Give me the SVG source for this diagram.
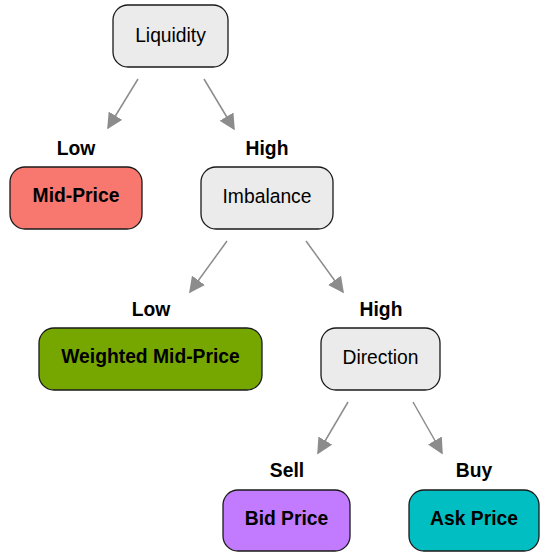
<svg xmlns="http://www.w3.org/2000/svg" width="541" height="552" viewBox="0 0 541 552">
<defs>
<style>
.box{stroke:#1a1a1a;stroke-width:1.3}
.q{fill:#ebebeb}
.t{font-family:"Liberation Sans",Arial,sans-serif;font-size:19.3px;fill:#000;text-anchor:middle}
.b{font-weight:bold}
.c{stroke:#8c8c8c;stroke-width:1.5;fill:none;marker-end:url(#ah)}
</style>
<marker id="ah" viewBox="0 0 10 10" refX="9" refY="5" markerWidth="16" markerHeight="16" orient="auto" markerUnits="userSpaceOnUse">
<path d="M0,0 L10,5 L0,10 z" fill="#8c8c8c"/>
</marker>
</defs>
<g id="connectors">
<line x1="138" y1="79" x2="108" y2="128" class="c"/>
<line x1="204" y1="79" x2="234" y2="129" class="c"/>
<line x1="227" y1="241" x2="190" y2="292" class="c"/>
<line x1="306" y1="241" x2="343" y2="292" class="c"/>
<line x1="348" y1="402" x2="318" y2="453" class="c"/>
<line x1="413" y1="402" x2="442" y2="453" class="c"/>
</g>
<g id="labels">
<text class="t b" x="76" y="155">Low</text>
<text class="t b" x="267" y="155">High</text>
<text class="t b" x="151" y="316">Low</text>
<text class="t b" x="381" y="316">High</text>
<text class="t b" x="287" y="477">Sell</text>
<text class="t b" x="474" y="477">Buy</text>
</g>
<g id="liquidity">
<rect class="box q" x="113" y="5" width="115" height="62" rx="15"/>
<text class="t" x="170.5" y="42">Liquidity</text>
</g>
<g id="mid-price">
<rect class="box" fill="#f8776f" x="10" y="167" width="132" height="62" rx="15"/>
<text class="t b" x="76" y="202">Mid-Price</text>
</g>
<g id="imbalance">
<rect class="box q" x="201" y="167" width="132" height="62" rx="15"/>
<text class="t" x="267" y="203">Imbalance</text>
</g>
<g id="weighted-mid-price">
<rect class="box" fill="#76a700" x="39" y="328" width="223" height="62" rx="15"/>
<text class="t b" x="150.5" y="363">Weighted Mid-Price</text>
</g>
<g id="direction">
<rect class="box q" x="321" y="328" width="119" height="62" rx="15"/>
<text class="t" x="380.5" y="364">Direction</text>
</g>
<g id="bid-price">
<rect class="box" fill="#c27bff" x="223" y="490" width="127" height="61" rx="15"/>
<text class="t b" x="286.5" y="525">Bid Price</text>
</g>
<g id="ask-price">
<rect class="box" fill="#00bec2" x="409" y="490" width="130" height="61" rx="15"/>
<text class="t b" x="474" y="525">Ask Price</text>
</g>
</svg>
